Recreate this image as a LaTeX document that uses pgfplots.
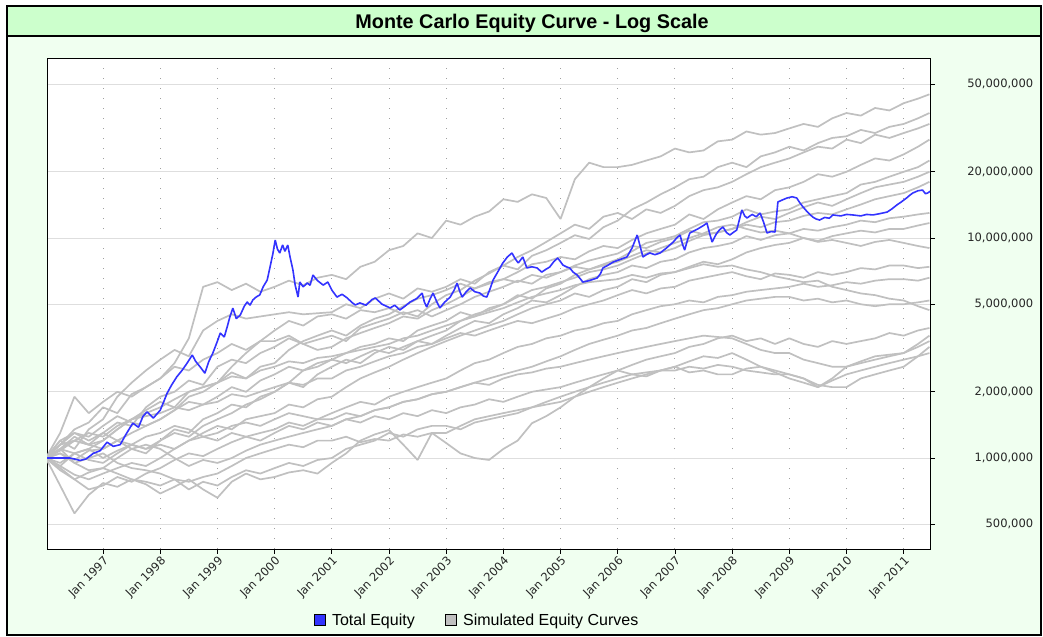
\documentclass[border=0pt]{standalone}
\usepackage{pgfplots}
\pgfplotsset{compat=1.18}
\usepackage{pgfplotstable}
\usepackage{fontspec}
\setmainfont{Liberation Sans}
\newfontfamily\tickfont{DejaVu Sans}
\definecolor{bgcol}{RGB}{240,255,240}
\definecolor{titlecol}{RGB}{204,255,204}
\definecolor{simgrey}{RGB}{192,192,192}
\definecolor{eqblue}{RGB}{51,51,255}
\definecolor{gridgrey}{RGB}{222,222,222}
\definecolor{dotgrey}{RGB}{160,160,160}

\pgfplotstableread{
t A B C D E F G H I J K L M N O P Q R S
1996.00 1.00 1.00 1.00 1.00 1.00 1.00 1.00 1.00 1.00 1.00 1.00 1.00 1.00 1.00 1.00 1.00 1.00 1.00 1.00
1996.25 1.15 1.08 1.20 0.92 0.88 1.10 1.30 1.20 0.92 1.05 1.15 1.10 1.10 0.90 0.95 1.05 0.75 1.15 1.10
1996.50 1.35 1.20 1.10 1.05 0.80 1.25 1.90 1.30 0.84 0.98 1.20 1.05 1.20 0.80 1.05 0.95 0.56 1.30 0.95
1996.75 1.45 1.15 1.35 1.10 0.86 1.15 1.60 1.25 0.80 1.08 1.30 0.98 1.15 0.72 1.10 0.88 0.68 1.20 1.00
1997.00 1.70 1.30 1.50 1.20 0.90 1.10 1.80 1.40 0.85 1.10 1.25 0.95 1.20 0.75 1.00 0.90 0.77 1.30 1.05
1997.25 1.60 1.45 1.90 1.35 1.00 1.20 2.00 1.55 0.90 1.20 1.40 1.05 1.35 0.82 1.08 0.85 0.74 1.20 0.95
1997.50 1.95 1.40 2.20 1.50 1.10 1.30 1.90 1.45 0.95 1.15 1.50 1.15 1.50 0.78 1.15 0.80 0.80 1.10 0.90
1997.75 2.10 1.70 2.50 1.65 1.05 1.40 2.10 1.40 0.92 1.10 1.55 1.25 1.60 0.85 1.10 0.78 0.76 1.15 0.88
1998.00 2.30 1.90 2.80 1.80 1.20 1.50 2.30 1.50 1.00 1.20 1.60 1.30 1.70 0.90 1.15 0.75 0.69 1.10 0.85
1998.25 2.70 2.00 3.10 1.70 1.35 1.65 2.60 1.65 1.10 1.30 1.70 1.40 1.85 0.98 1.10 0.80 0.74 1.00 0.80
1998.50 3.50 2.25 2.90 2.00 1.30 1.90 2.50 1.80 1.20 1.25 1.65 1.35 2.00 1.05 1.20 0.78 0.80 0.92 0.72
1998.75 6.00 2.15 3.80 2.10 1.50 2.00 2.80 1.75 1.30 1.40 1.75 1.25 2.10 1.02 1.25 0.82 0.72 0.98 0.78
1999.00 6.30 2.60 4.20 2.20 1.60 2.20 3.00 1.90 1.40 1.50 1.80 1.30 2.20 1.10 1.20 0.85 0.66 0.95 0.75
1999.25 5.80 2.80 4.50 2.45 1.75 2.60 3.30 2.10 1.35 1.60 1.95 1.40 2.35 1.18 1.30 0.92 0.78 1.00 0.82
1999.50 6.20 2.70 4.30 2.30 1.70 3.00 3.10 2.00 1.50 1.75 1.90 1.45 2.30 1.25 1.25 1.00 0.85 1.08 0.88
1999.75 5.70 3.00 4.40 2.60 1.90 3.40 3.40 2.25 1.55 1.85 2.00 1.40 2.50 1.20 1.30 1.05 0.80 1.15 0.85
2000.00 6.00 3.20 4.50 2.70 2.00 3.80 3.40 2.40 1.60 2.00 2.10 1.50 2.60 1.30 1.35 1.10 0.82 1.20 0.90
2000.25 6.40 3.50 4.60 3.10 2.20 4.20 3.60 2.60 1.75 2.20 2.20 1.60 2.75 1.40 1.45 1.15 0.86 1.25 0.95
2000.50 6.10 3.30 4.50 3.40 2.50 4.00 3.30 2.50 1.70 2.10 2.15 1.55 2.70 1.35 1.40 1.12 0.88 1.30 0.92
2000.75 6.60 3.45 4.55 3.60 2.60 4.40 3.10 2.70 1.85 2.40 2.30 1.50 2.85 1.45 1.50 1.20 0.85 1.35 0.98
2001.00 6.80 3.60 4.60 3.80 2.80 4.50 3.20 2.80 1.90 2.60 2.30 1.60 2.90 1.40 1.50 1.20 0.95 1.40 1.00
2001.25 6.50 3.40 5.00 3.60 3.00 4.30 3.50 2.70 2.10 2.80 2.50 1.70 3.00 1.50 1.60 1.25 1.05 1.50 1.10
2001.50 7.40 3.90 4.80 4.00 3.20 4.70 3.70 2.90 2.30 2.70 2.60 1.80 3.10 1.45 1.55 1.18 1.20 1.55 1.15
2001.75 7.80 4.10 5.30 4.30 3.30 4.60 3.90 3.10 2.45 3.00 2.75 1.75 3.20 1.55 1.65 1.22 1.28 1.65 1.20
2002.00 8.80 4.30 5.60 4.50 3.50 4.80 4.10 3.00 2.60 3.20 2.90 1.90 3.30 1.50 1.70 1.20 1.34 1.70 1.30
2002.25 9.20 4.60 5.30 4.90 3.40 4.50 4.40 3.20 2.80 3.10 3.00 2.00 3.50 1.60 1.80 1.28 1.15 1.80 1.25
2002.50 10.5 4.40 5.90 5.30 3.80 4.70 4.30 3.40 3.00 3.40 3.20 2.10 3.60 1.55 1.85 1.25 0.98 1.85 1.35
2002.75 10.0 5.00 5.70 5.50 4.00 4.40 4.70 3.30 3.20 3.60 3.30 2.20 3.80 1.65 1.95 1.30 1.30 1.95 1.40
2003.00 12.0 5.50 6.00 5.80 4.20 4.70 5.00 3.60 3.40 3.80 3.50 2.30 4.00 1.60 2.00 1.30 1.17 2.00 1.40
2003.25 11.5 5.80 6.50 6.20 4.60 5.00 5.40 3.90 3.60 4.20 3.70 2.50 4.20 1.70 2.10 1.40 1.05 2.10 1.35
2003.50 12.5 6.40 6.20 5.90 4.40 5.40 5.90 4.20 3.80 4.50 3.60 2.70 4.40 1.75 2.20 1.50 1.00 2.20 1.45
2003.75 13.2 6.90 7.00 6.30 4.80 5.70 6.20 4.10 4.00 4.70 3.80 2.80 4.60 1.85 2.15 1.55 0.98 2.30 1.50
2004.00 15.0 7.50 7.50 6.50 5.00 6.00 6.50 4.50 4.20 5.00 4.00 3.00 4.80 1.80 2.30 1.60 1.10 2.40 1.55
2004.25 14.6 7.20 8.20 7.00 5.50 6.40 6.30 4.80 4.50 5.40 4.20 3.20 5.10 1.90 2.40 1.65 1.20 2.50 1.60
2004.50 15.8 8.30 8.80 7.60 5.30 6.20 6.80 5.20 4.80 5.80 4.10 3.30 5.40 2.00 2.45 1.70 1.44 2.60 1.70
2004.75 15.2 8.80 9.60 7.80 5.90 6.80 6.60 5.10 5.00 6.00 4.30 3.50 5.60 2.05 2.55 1.75 1.55 2.75 1.80
2005.00 12.2 9.50 10.5 8.20 6.20 7.00 7.00 5.50 5.20 6.30 4.50 3.60 5.80 2.10 2.60 1.80 1.70 2.90 1.90
2005.25 18.5 10.3 11.5 8.00 6.80 7.50 7.40 6.00 5.60 6.60 4.80 3.80 6.10 2.20 2.70 1.90 1.90 3.10 2.00
2005.50 22.0 9.90 11.0 8.70 7.20 7.90 7.20 6.50 5.40 7.00 5.00 3.90 6.30 2.30 2.80 2.00 2.10 3.30 2.10
2005.75 21.0 11.2 12.5 9.20 7.60 8.20 7.50 6.80 5.80 7.20 5.20 4.10 6.40 2.40 2.90 2.10 2.30 3.45 2.20
2006.00 21.0 12.0 13.0 9.00 8.00 8.50 7.80 7.00 6.00 7.50 5.50 4.20 6.50 2.50 3.00 2.20 2.50 3.60 2.30
2006.25 21.5 13.5 12.2 9.80 8.70 9.20 8.30 7.50 6.50 8.00 5.80 4.50 6.80 2.65 3.10 2.30 2.40 3.80 2.40
2006.50 22.5 14.5 13.5 10.5 9.50 9.00 8.80 7.30 6.30 8.50 5.60 4.70 6.60 2.80 3.20 2.40 2.35 3.90 2.45
2006.75 23.5 15.8 13.0 11.0 9.80 9.60 8.60 7.80 6.80 9.00 5.90 4.90 6.90 2.90 3.30 2.50 2.50 4.10 2.50
2007.00 25.5 17.0 14.0 11.5 10.2 10.0 9.00 8.00 7.00 9.50 6.00 5.00 7.00 3.00 3.40 2.60 2.60 4.30 2.50
2007.25 24.5 18.5 15.5 12.8 11.0 10.8 9.70 8.60 7.40 10.0 6.40 5.20 7.30 3.20 3.50 2.75 2.45 4.50 2.60
2007.50 25.0 19.0 16.5 12.2 11.8 10.4 10.3 9.00 7.80 10.5 6.60 5.10 7.60 3.30 3.60 2.90 2.50 4.70 2.55
2007.75 27.5 21.0 17.0 13.5 12.0 10.6 10.6 9.20 7.60 11.2 6.80 5.40 7.40 3.50 3.55 2.85 2.40 4.80 2.65
2008.00 28.0 22.0 18.0 14.5 12.5 11.0 11.0 9.50 8.00 11.5 7.00 5.50 7.50 3.60 3.50 3.00 2.40 5.00 2.60
2008.25 30.5 21.0 19.5 15.5 13.5 11.8 11.5 10.2 8.60 11.0 6.70 5.70 7.20 3.40 3.30 2.80 2.55 5.20 2.50
2008.50 29.5 23.5 21.0 15.0 12.8 12.5 11.2 9.80 9.00 10.6 6.50 5.80 7.00 3.50 3.10 2.60 2.60 5.30 2.45
2008.75 30.0 24.5 22.0 16.5 13.2 12.2 11.8 10.3 9.30 10.8 6.90 5.90 6.70 3.30 3.00 2.50 2.45 5.40 2.40
2009.00 31.5 26.0 23.0 17.0 13.5 13.0 12.0 10.5 9.50 10.5 6.80 6.00 6.50 3.50 3.00 2.40 2.30 5.40 2.40
2009.25 33.0 25.0 24.5 18.0 14.5 13.8 12.6 11.0 10.0 10.0 6.60 6.20 6.30 3.30 2.80 2.30 2.20 5.20 2.30
2009.50 32.0 27.0 26.0 19.5 15.0 14.5 13.0 10.8 9.70 9.60 7.00 6.00 6.40 3.20 2.70 2.15 2.10 5.30 2.10
2009.75 35.0 28.5 25.5 19.0 15.5 14.0 12.8 11.2 10.2 9.80 6.80 6.10 6.00 3.40 2.60 2.10 2.25 5.10 2.30
2010.00 37.0 29.0 28.0 20.0 16.0 15.0 13.5 11.5 10.5 9.50 7.00 6.30 5.80 3.30 2.60 2.10 2.40 5.20 2.60
2010.25 36.0 31.0 27.0 21.5 17.5 16.0 14.2 12.0 10.8 9.20 7.30 6.20 5.60 3.40 2.75 2.30 2.50 5.00 2.70
2010.50 39.0 30.0 29.5 23.0 18.0 17.0 15.0 11.8 10.6 9.60 7.20 6.40 5.50 3.50 2.90 2.40 2.60 4.90 2.80
2010.75 38.0 32.0 28.5 22.5 19.0 17.5 15.5 12.3 11.0 9.80 7.50 6.50 5.30 3.70 2.95 2.50 2.70 5.00 2.90
2011.00 41.0 33.0 30.0 24.0 20.0 18.0 16.0 12.5 11.0 9.50 7.50 6.50 5.20 3.60 3.00 2.60 2.80 5.00 3.00
2011.25 43.0 35.0 31.5 26.0 21.0 19.0 17.0 12.8 11.4 9.20 7.30 6.40 4.90 3.80 3.20 2.90 2.90 5.10 3.30
2011.45 45.0 37.0 33.0 28.0 22.5 20.0 18.0 13.0 11.7 9.00 7.40 6.60 4.70 3.90 3.40 3.20 3.00 5.20 3.60
}\simdata

\begin{document}
\begin{tikzpicture}
\fill[white] (0,0) rectangle (1043bp,637bp);
\fill[bgcol] (7bp,2bp) rectangle (1041bp,631bp);
\fill[titlecol] (7bp,601bp) rectangle (1041bp,631bp);
\draw[black,line width=1.2bp] (7bp,601bp) -- (1041bp,601bp);
\draw[black,line width=1.8bp] (7bp,2bp) rectangle (1041bp,631bp);
\node[font=\bfseries\fontsize{19.8bp}{22bp}\selectfont, anchor=base] at (532bp,608bp) {Monte Carlo Equity Curve - Log Scale};
\begin{axis}[
  at={(47bp,88bp)}, anchor=south west,
  width=883bp, height=491bp, scale only axis,
  xmin=1996.02, xmax=2011.46,
  ymode=log, ymin=0.386, ymax=65.8,
  axis background/.style={fill=white},
  xtick={1997,1998,1999,2000,2001,2002,2003,2004,2005,2006,2007,2008,2009,2010,2011},
  xticklabels={Jan 1997,Jan 1998,Jan 1999,Jan 2000,Jan 2001,Jan 2002,Jan 2003,Jan 2004,Jan 2005,Jan 2006,Jan 2007,Jan 2008,Jan 2009,Jan 2010,Jan 2011},
  ytick={0.5,1,2,5,10,20,50},
  yticklabels={{500,000},{1,000,000},{2,000,000},{5,000,000},{10,000,000},{20,000,000},{50,000,000}},
  yminorticks=false, xminorticks=false,
  yticklabel pos=right, ytick pos=right, xtick pos=bottom,
  tick align=outside, major tick length=5bp,
  tick style={black, line width=0.8bp},
  axis line style={black, line width=0.9bp},
  ymajorgrids, xmajorgrids,
  y grid style={gridgrey, line width=0.9bp},
  x grid style={dotgrey, line width=0.9bp, dash pattern=on 1bp off 9bp},
  xticklabel style={font=\tickfont\fontsize{11.5bp}{13bp}\selectfont, rotate=45, anchor=north east, inner sep=1bp, text=black!85},
  yticklabel style={font=\tickfont\fontsize{11.5bp}{13bp}\selectfont, anchor=west, text width=98bp, align=right, inner sep=0pt, text=black!85},
  legend style={at={(0.487,-0.1446)}, anchor=center, draw=none, fill=none,
    font=\fontsize{16bp}{19bp}\selectfont,
    /tikz/every even column/.append style={column sep=28bp}},
  legend columns=2, legend cell align=left,
]
\addlegendimage{legend image code/.code={\draw[fill=eqblue, draw=black, line width=0.7bp] (0bp,-5.5bp) rectangle (11bp,5.5bp); \path[draw=none,fill=none] (11bp,0bp) -- (16bp,0bp);}}
\addlegendentry{Total Equity}
\addlegendimage{legend image code/.code={\draw[fill=simgrey, draw=black, line width=0.7bp] (0bp,-5.5bp) rectangle (11bp,5.5bp); \path[draw=none,fill=none] (11bp,0bp) -- (16bp,0bp);}}
\addlegendentry{Simulated Equity Curves}
\pgfplotsinvokeforeach{A,B,C,D,E,F,G,H,I,J,K,L,M,N,O,P,Q,R,S}{
  \addplot[simgrey, line width=1.7bp, line join=bevel, forget plot] table[x=t, y=#1] {\simdata};
}
\addplot[eqblue, line width=1.6bp, line join=bevel, forget plot] coordinates {
(1996.00,1.00) (1996.42,1.00) (1996.50,0.99) (1996.60,0.975) (1996.70,0.99) (1996.83,1.05) (1996.95,1.08)
(1997.07,1.18) (1997.18,1.13) (1997.30,1.15) (1997.40,1.28) (1997.52,1.44) (1997.62,1.38) (1997.70,1.55)
(1997.77,1.62) (1997.88,1.52) (1998.00,1.65) (1998.06,1.80) (1998.12,1.97) (1998.20,2.15) (1998.29,2.34)
(1998.38,2.50) (1998.47,2.70) (1998.56,2.94) (1998.62,2.75) (1998.70,2.59) (1998.78,2.43) (1998.85,2.75)
(1998.92,3.00) (1999.00,3.40) (1999.05,3.70) (1999.12,3.55) (1999.17,3.94) (1999.22,4.40) (1999.27,4.80)
(1999.33,4.30) (1999.40,4.47) (1999.47,4.90) (1999.52,5.12) (1999.57,4.95) (1999.62,5.23) (1999.68,5.40)
(1999.74,5.51) (1999.80,6.00) (1999.87,6.44) (1999.92,7.38) (1999.97,8.50) (2000.01,9.79) (2000.05,8.90)
(2000.09,8.55) (2000.14,9.30) (2000.18,8.70) (2000.23,9.29) (2000.27,8.20) (2000.32,7.16) (2000.36,6.10)
(2000.41,5.39) (2000.44,6.31) (2000.50,6.00) (2000.57,6.24) (2000.62,6.10) (2000.67,6.79) (2000.75,6.40)
(2000.85,6.11) (2000.93,6.31) (2001.00,5.80) (2001.09,5.39) (2001.18,5.55) (2001.27,5.34) (2001.35,5.10)
(2001.41,4.96) (2001.49,5.07) (2001.60,4.95) (2001.70,5.25) (2001.76,5.34) (2001.88,5.00) (2002.02,4.81)
(2002.10,4.95) (2002.19,4.71) (2002.28,4.90) (2002.37,5.12) (2002.48,5.30) (2002.58,5.62) (2002.62,5.10)
(2002.66,4.86) (2002.72,5.30) (2002.77,5.62) (2002.84,5.10) (2002.89,4.81) (2002.97,5.10) (2003.07,5.39)
(2003.14,5.80) (2003.19,6.24) (2003.24,5.70) (2003.28,5.39) (2003.35,5.70) (2003.42,5.93) (2003.50,5.70)
(2003.59,5.62) (2003.65,5.45) (2003.71,5.39) (2003.77,5.90) (2003.82,6.44) (2003.90,7.00) (2003.99,7.70)
(2004.07,8.20) (2004.15,8.55) (2004.20,8.10) (2004.26,7.70) (2004.34,8.20) (2004.41,7.31) (2004.50,7.40)
(2004.59,7.31) (2004.67,7.00) (2004.74,7.20) (2004.81,7.38) (2004.88,7.80) (2004.95,8.11) (2005.00,7.80)
(2005.04,7.54) (2005.10,7.40) (2005.16,7.31) (2005.22,7.00) (2005.29,6.79) (2005.35,6.50) (2005.39,6.31)
(2005.50,6.40) (2005.64,6.58) (2005.70,6.90) (2005.74,7.31) (2005.82,7.50) (2005.92,7.78) (2006.05,8.00)
(2006.16,8.20) (2006.25,9.00) (2006.34,10.32) (2006.39,9.20) (2006.44,8.20) (2006.50,8.40) (2006.56,8.55)
(2006.65,8.40) (2006.74,8.55) (2006.85,9.00) (2006.97,9.59) (2007.03,10.00) (2007.09,10.32) (2007.13,9.40)
(2007.17,8.82) (2007.22,9.80) (2007.26,10.54) (2007.40,11.00) (2007.50,11.40) (2007.56,11.70) (2007.61,10.40)
(2007.65,9.59) (2007.72,10.40) (2007.78,10.90) (2007.84,11.22) (2007.90,10.60) (2007.96,10.32) (2008.02,10.60)
(2008.08,10.87) (2008.13,12.20) (2008.17,13.41) (2008.22,12.60) (2008.26,12.33) (2008.35,12.80) (2008.42,12.50)
(2008.49,12.99) (2008.55,11.80) (2008.61,10.54) (2008.68,10.70) (2008.75,10.65) (2008.78,12.80) (2008.80,14.58)
(2008.88,14.90) (2008.96,15.20) (2009.05,15.40) (2009.13,15.20) (2009.18,14.50) (2009.24,13.83) (2009.32,13.10)
(2009.41,12.45) (2009.47,12.20) (2009.53,12.07) (2009.62,12.40) (2009.70,12.30) (2009.76,12.73) (2009.90,12.60)
(2010.00,12.80) (2010.11,12.73) (2010.25,12.60) (2010.35,12.80) (2010.46,12.73) (2010.58,12.90) (2010.71,13.12)
(2010.80,13.60) (2010.88,14.13) (2010.96,14.60) (2011.05,15.20) (2011.10,15.60) (2011.16,16.02) (2011.25,16.40)
(2011.33,16.52) (2011.38,15.90) (2011.42,16.02) (2011.46,16.30)
};
\end{axis}
\end{tikzpicture}
\end{document}
